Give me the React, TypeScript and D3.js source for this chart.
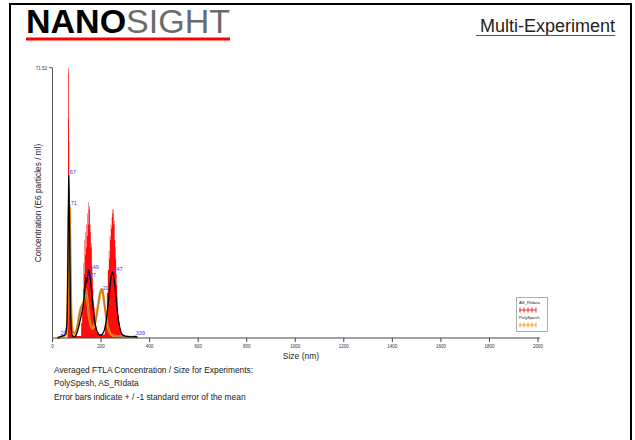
import React from "react";
import * as d3 from "d3";

// ---- Data ----
const xTicks = [0, 200, 400, 600, 800, 1000, 1200, 1400, 1600, 1800, 2000];
const yMax = 71.52;

// AS_RIdata mean concentration (E6 particles / ml)
const asSizes = [20, 30, 40, 50, 55, 60, 62, 64, 66, 67, 68, 70, 71, 72, 74, 76, 78, 80, 85, 90, 95, 100, 105, 110, 115, 120, 125, 130, 135, 137, 140, 145, 149, 152, 155, 160, 165, 170, 175, 180, 185, 190, 195, 200, 205, 210, 215, 220, 225, 230, 235, 240, 244, 247, 250, 255, 260, 265, 270, 275, 280, 285, 290, 300, 310, 320, 330, 339, 350];
const asMean = [0, 0.3, 0.5, 0.8, 1.5, 5, 12, 25, 38, 43, 40, 30, 25, 18, 9, 4, 2, 1, 0.5, 0.4, 0.6, 1.2, 2.2, 3.5, 5, 6.5, 8, 10.5, 14, 16, 14.5, 16.5, 18, 17.5, 16, 13, 9.5, 6.5, 4, 2.5, 1.5, 1, 0.8, 0.8, 1, 1.5, 2.5, 4, 6.5, 9.5, 12.5, 15.5, 17, 17.5, 17, 15, 12, 8.5, 5.5, 3.5, 2, 1.2, 0.8, 0.5, 0.4, 0.3, 0.3, 0.4, 0.2];

// AS_RIdata mean + standard error (upper end of the error bars)
const errSizes = [58, 62, 64, 66, 67, 68, 69, 70, 72, 74, 76, 80, 110, 118, 122, 126, 128, 130, 132, 134, 136, 138, 140, 142, 144, 146, 148, 150, 152, 154, 156, 158, 160, 162, 164, 166, 168, 170, 174, 178, 182, 190, 210, 216, 220, 224, 228, 232, 234, 236, 238, 240, 242, 244, 246, 248, 250, 252, 254, 256, 258, 260, 262, 264, 266, 268, 270, 274, 278, 282, 286, 290, 300];
const errUpper = [0, 4, 71.5, 70, 58, 52, 40, 22, 12, 5, 2, 0.5, 0.5, 4, 8, 13, 20, 17, 26, 22, 28, 24, 30, 27, 33, 30, 36, 34, 35, 30, 28, 24, 25, 19, 16, 13, 10, 8, 5, 3, 1.5, 0.8, 1, 3, 7, 12, 18, 23, 21, 27, 26, 30, 29, 32, 34, 33, 34, 30, 31, 26, 24, 21, 17, 14, 11, 8, 6, 4, 2.5, 1.5, 0.8, 0.3, 0];

// PolySpesh mean concentration
const psSizes = [20, 30, 40, 50, 55, 60, 62, 64, 66, 67, 68, 70, 71, 72, 74, 76, 78, 80, 85, 90, 95, 100, 105, 110, 115, 120, 125, 130, 135, 137, 140, 145, 150, 155, 160, 165, 170, 175, 180, 185, 190, 195, 200, 203, 206, 210, 215, 220, 225, 230, 235, 240, 250, 260, 280, 300, 339, 350];
const psMean = [0, 0.2, 0.4, 0.6, 1, 3, 8, 18, 28, 32, 34, 35, 35, 30, 20, 10, 5, 3, 1.5, 1.2, 1.5, 2.5, 4, 6, 7.5, 8.5, 9, 10, 12, 13, 12, 9, 6, 4, 3, 2.5, 3, 4, 5.5, 7.5, 9.5, 11.5, 12.5, 13, 12.5, 11, 8.5, 6, 4, 2.5, 1.5, 1, 0.6, 0.5, 0.4, 0.3, 0.3, 0.2];

// Peak labels
const peakLabels = ["67", "71", "29", "137", "149", "20", "247", "339"];
const peakSizes = [67, 71, 29, 137, 149, 203, 247, 339];
const peakValues = [43, 35, 0.5, 16, 18, 12.5, 17.5, 0.4];

const legendNames = ["AS_RIdata", "PolySpesh"];
const legendColors = ["#ff0000", "#ff8c00"];

const noteLines = [
  "Averaged FTLA Concentration / Size for Experiments:",
  "PolySpesh, AS_RIdata",
  "Error bars indicate + / -1 standard error of the mean",
];

const FONT = "'Liberation Sans', Arial, sans-serif";

export default function App() {
  const x = d3.scaleLinear().domain([0, 2000]).range([52.5, 538]);
  const y = d3.scaleLinear().domain([0, yMax]).range([338, 67.7]);

  const redArea = d3
    .area<number>()
    .x((_, i) => x(errSizes[i]))
    .y0(() => y(0))
    .y1((d) => y(d))
    .curve(d3.curveStepAfter)(errUpper);

  const asLine = d3
    .line<number>()
    .x((_, i) => x(asSizes[i]))
    .y((d) => y(d))
    .curve(d3.curveMonotoneX)(asMean);

  const psLine = d3
    .line<number>()
    .x((_, i) => x(psSizes[i]))
    .y((d) => y(d))
    .curve(d3.curveMonotoneX)(psMean);

  return (
    <svg
      width={635}
      height={440}
      style={{ position: "absolute", left: 0, top: 0, background: "#fff" }}
      fontFamily={FONT}
    >
      <rect x={0} y={0} width={635} height={440} fill="#fff" />
      {/* frame */}
      <rect x={10} y={4} width={621} height={450} fill="none" stroke="#000" strokeWidth={2} />

      {/* header */}
      <text x={26} y={33} fontSize={34} fontFamily={FONT}>
        <tspan fontWeight="bold" fill="#000">NANO</tspan>
        <tspan fill="#6b6b6b">SIGHT</tspan>
      </text>
      <rect x={26} y={37.5} width={204} height={3} fill="#ff0000" />
      <text x={615} y={32} fontSize={18} textAnchor="end" fill="#222">
        Multi-Experiment
      </text>
      <line x1={476} x2={615} y1={35.5} y2={35.5} stroke="#555" strokeWidth={1} />

      {/* data */}
      <path d={redArea ?? ""} fill="#ff0000" opacity={0.95} />
      <path d={psLine ?? ""} fill="none" stroke="#ff8c00" strokeWidth={2.4} />
      <path d={psLine ?? ""} fill="none" stroke="#777" strokeWidth={0.7} />
      <path d={asLine ?? ""} fill="none" stroke="#000" strokeWidth={1.3} />

      {peakLabels.map((t, i) => (
        <text
          key={i}
          x={x(peakSizes[i]) + 1}
          y={y(peakValues[i]) - 1}
          fontSize={5.5}
          fill="#3333ff"
        >
          {t}
        </text>
      ))}

      {/* axes */}
      <line x1={52.5} x2={52.5} y1={67.7} y2={338} stroke="#555" strokeWidth={1} />
      <line x1={49} x2={52.5} y1={67.7} y2={67.7} stroke="#555" strokeWidth={1} />
      <text x={47} y={69.5} fontSize={4.5} textAnchor="end" fill="#333">
        {yMax.toFixed(2)}
      </text>
      <line x1={52.5} x2={540} y1={338} y2={338} stroke="#444" strokeWidth={1} />
      {xTicks.map((t) => (
        <g key={t}>
          <line x1={x(t)} x2={x(t)} y1={338} y2={342} stroke="#444" strokeWidth={1} />
          <text x={x(t)} y={348} fontSize={4.5} textAnchor="middle" fill="#333">
            {t}
          </text>
        </g>
      ))}
      <text x={301} y={359} fontSize={8.5} textAnchor="middle" fill="#222">
        Size (nm)
      </text>
      <text
        transform={`translate(40.5,203) rotate(-90)`}
        fontSize={8.3}
        textAnchor="middle"
        fill="#222"
      >
        Concentration (E6 particles / ml)
      </text>

      {/* legend */}
      <rect x={516.5} y={297.5} width={31} height={34} fill="#fff" stroke="#999" strokeWidth={0.8} />
      {legendNames.map((n, i) => (
        <g key={n}>
          <text x={519} y={303.5 + i * 15} fontSize={4.3} fill="#222">
            {n}
          </text>
          <line x1={519} x2={536} y1={310 + i * 15} y2={310 + i * 15} stroke={legendColors[i]} strokeWidth={0.8} />
          {[520, 524, 528, 532, 536].map((lx) => (
            <line key={lx} x1={lx} x2={lx} y1={307.5 + i * 15} y2={312.5 + i * 15} stroke={legendColors[i]} strokeWidth={0.8} />
          ))}
        </g>
      ))}

      {/* notes */}
      {noteLines.map((l, i) => (
        <text key={i} x={54} y={373 + i * 13.3} fontSize={8.4} fill="#222">
          {l}
        </text>
      ))}
    </svg>
  );
}
